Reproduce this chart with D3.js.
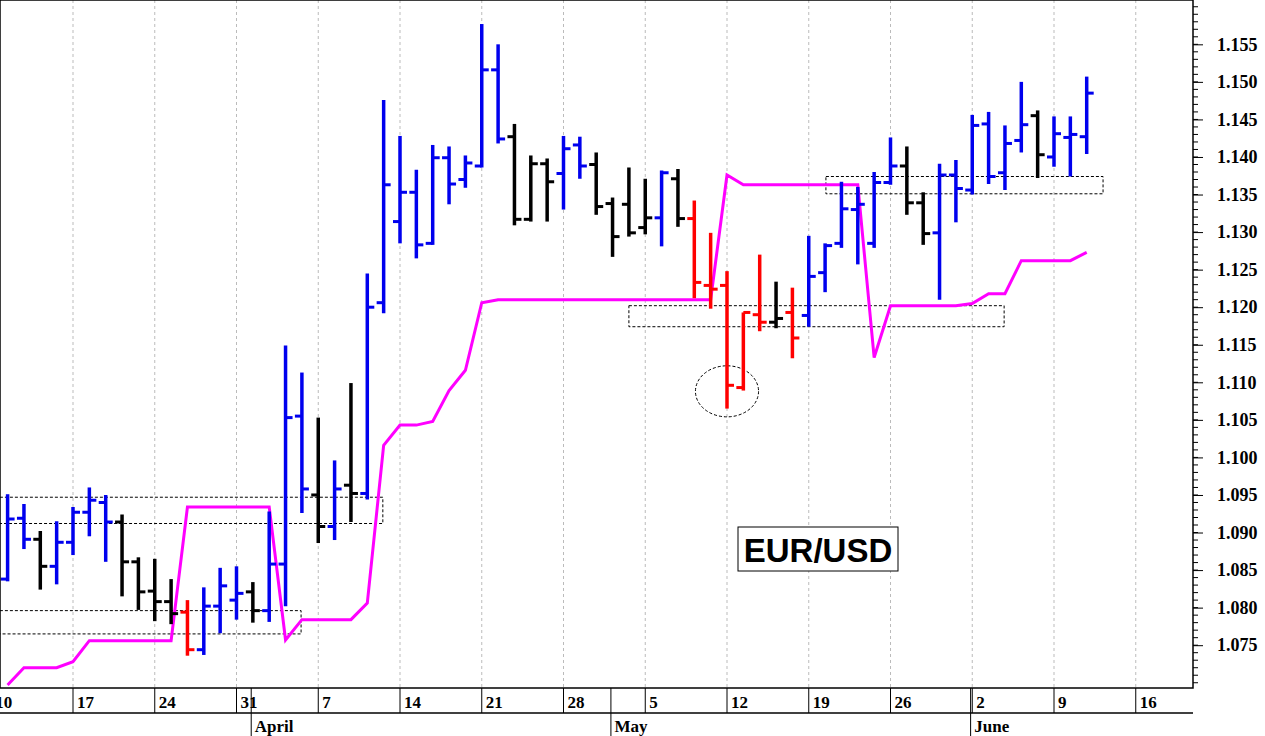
<!DOCTYPE html>
<html><head><meta charset="utf-8">
<script src="https://cdn.jsdelivr.net/npm/d3@7"></script>
<style>body{margin:0;background:#fff}svg{display:block}</style>
</head><body><svg id="c" width="1265" height="736"></svg>
<script>
// trading-day index (0 = Mon Mar 17)
const firstIndex = -4;
const opens  = [1.0838,1.0919,1.0891,1.0855,1.0887,1.0927,1.0940,1.0914,1.0861,1.0822,1.0808,1.0794,1.0744,1.0802,1.0810,1.0821,1.0796,1.0858,1.1055,1.0950,1.0908,1.0963,1.0952,1.1206,1.1314,1.1353,1.1285,1.1399,1.1370,1.1388,1.1516,1.1427,1.1317,1.1391,1.1378,1.1416,1.1390,1.1338,1.1337,1.1306,1.1319,1.1371,1.1318,1.1229,1.1229,1.1093,1.1190,1.1180,1.1193,1.1189,1.1246,1.1285,1.1330,1.1285,1.1366,1.1388,1.1339,1.1299,1.1376,1.1356,1.1444,1.1379,1.1422,1.1455,1.1400,1.1426,1.1427];
const highs  = [1.0951,1.0938,1.0902,1.0915,1.0934,1.0960,1.0950,1.0924,1.0867,1.0865,1.0838,1.0810,1.0827,1.0853,1.0855,1.0834,1.0928,1.1149,1.1113,1.1053,1.0996,1.1099,1.1245,1.1476,1.1428,1.1383,1.1416,1.1414,1.1402,1.1577,1.1550,1.1444,1.1402,1.1398,1.1428,1.1427,1.1406,1.1346,1.1386,1.1371,1.1382,1.1384,1.1342,1.1299,1.1248,1.1193,1.1270,1.1234,1.1226,1.1295,1.1285,1.1367,1.1360,1.1380,1.1426,1.1414,1.1353,1.1391,1.1396,1.1456,1.1460,1.1442,1.1500,1.1462,1.1454,1.1454,1.1507];
const lows   = [1.0835,1.0878,1.0824,1.0831,1.0870,1.0895,1.0861,1.0815,1.0797,1.0782,1.0778,1.0736,1.0737,1.0766,1.0784,1.0780,1.0781,1.0802,1.0926,1.0886,1.0890,1.0914,1.0944,1.1192,1.1285,1.1265,1.1283,1.1337,1.1359,1.1386,1.1418,1.1309,1.1314,1.1314,1.1330,1.1371,1.1323,1.1267,1.1294,1.1297,1.1281,1.1307,1.1212,1.1198,1.1065,1.1089,1.1168,1.1172,1.1132,1.1174,1.1220,1.1279,1.1257,1.1279,1.1363,1.1323,1.1283,1.1210,1.1313,1.1350,1.1364,1.1356,1.1406,1.1372,1.1387,1.1374,1.1404];
const closes = [1.0918,1.0891,1.0855,1.0887,1.0927,1.0943,1.0914,1.0861,1.0821,1.0808,1.0792,1.0744,1.0802,1.0829,1.0819,1.0796,1.0858,1.1053,1.0958,1.0908,1.0958,1.0952,1.1200,1.1363,1.1353,1.1283,1.1399,1.1364,1.1392,1.1516,1.1424,1.1317,1.1391,1.1367,1.1411,1.1388,1.1334,1.1294,1.1299,1.1319,1.1379,1.1318,1.1233,1.1224,1.1096,1.1193,1.1180,1.1185,1.1159,1.1241,1.1282,1.1331,1.1337,1.1366,1.1388,1.1339,1.1298,1.1376,1.1358,1.1442,1.1374,1.1418,1.1443,1.1403,1.1431,1.1430,1.1485];
const barColors = "bbkbbbbkkkkrbbbkbbbkbkbbbbbbbbbkkkbbkkkkbkrrrrrkrbbbbbbkkbbbbbbkbbb";
const stopLine = [1.0697,1.0720,1.0720,1.0720,1.0728,1.0756,1.0756,1.0756,1.0756,1.0756,1.0756,1.0934,1.0934,1.0934,1.0934,1.0934,1.0934,1.0757,1.0784,1.0784,1.0784,1.0784,1.0806,1.1016,1.1043,1.1043,1.1048,1.1089,1.1116,1.1206,1.1210,1.1210,1.1210,1.1210,1.1210,1.1210,1.1210,1.1210,1.1210,1.1210,1.1210,1.1210,1.1210,1.1210,1.1376,1.1363,1.1363,1.1363,1.1363,1.1363,1.1363,1.1363,1.1363,1.1133,1.1202,1.1202,1.1202,1.1202,1.1202,1.1205,1.1218,1.1218,1.1262,1.1262,1.1262,1.1262,1.1273];
// zones: [startIndex, endIndex, top, bottom]
const zones = [[-6,18.95,1.0947,1.0912],[-6,13.95,1.0796,1.0765],[34,56.95,1.1202,1.1174],[46.05,63,1.1374,1.1351]];
const ellipse = {idx:40, price:1.1088, dIdx:1.93, dPrice:0.0034};
const weekTicks = [-5,0,5,10,15,20,25,30,35,40,45,50,55,60,65];
const weekLabels = ["10","17","24","31","7","14","21","28","5","12","19","26","2","9","16"];
const monthIdx = [11,33,55];
const monthLabels = ["April","May","June"];
const yTicks = [1.075,1.080,1.085,1.090,1.095,1.100,1.105,1.110,1.115,1.120,1.125,1.130,1.135,1.140,1.145,1.150,1.155];
const title = "EUR/USD";

const svg = d3.select("#c");
const plotR = 1193, plotB = 688;
const x = d3.scaleLinear().domain([-5,65]).range([-8.75,1135.75]);
const y = d3.scaleLinear().domain([1.0693,1.1609]).range([plotB,0]);
const col = {b:"#0000ee",k:"#000000",r:"#ff0000"};

// grid
svg.append("g").selectAll("line").data(weekTicks).join("line")
  .attr("x1",d=>x(d)).attr("x2",d=>x(d)).attr("y1",0).attr("y2",plotB)
  .attr("stroke","#bbb").attr("stroke-dasharray","3,3");

// zones
svg.append("g").selectAll("rect").data(zones).join("rect")
  .attr("x",d=>x(d[0])).attr("width",d=>x(d[1])-x(d[0]))
  .attr("y",d=>y(d[2])).attr("height",d=>y(d[3])-y(d[2]))
  .attr("fill","none").attr("stroke","#000").attr("stroke-width",1).attr("stroke-dasharray","3,2");
svg.append("ellipse").attr("cx",x(ellipse.idx)).attr("cy",y(ellipse.price))
  .attr("rx",x(ellipse.dIdx)-x(0)).attr("ry",y(0)-y(ellipse.dPrice)).attr("fill","none")
  .attr("stroke","#000").attr("stroke-dasharray","3,2");

// stop line
svg.append("path").datum(stopLine).attr("fill","none").attr("stroke","#ff00ff").attr("stroke-width",3)
  .attr("d",d3.line().x((d,i)=>x(i+firstIndex)).y(d=>y(d)));

// bars
const bars = svg.append("g").selectAll("g").data(opens.map((o,i)=>({i:i+firstIndex,o,h:highs[i],l:lows[i],c:closes[i],k:barColors[i]}))).join("g")
  .attr("stroke",d=>col[d.k]).attr("stroke-width",3.5);
bars.append("line").attr("x1",d=>x(d.i)).attr("x2",d=>x(d.i)).attr("y1",d=>y(d.h)).attr("y2",d=>y(d.l));
bars.append("line").attr("x1",d=>x(d.i)-7).attr("x2",d=>x(d.i)).attr("y1",d=>y(d.o)).attr("y2",d=>y(d.o)).attr("stroke-width",3);
bars.append("line").attr("x1",d=>x(d.i)).attr("x2",d=>x(d.i)+7).attr("y1",d=>y(d.c)).attr("y2",d=>y(d.c)).attr("stroke-width",3);

// frame
svg.append("rect").attr("x",0).attr("y",0).attr("width",plotR).attr("height",plotB).attr("fill","none").attr("stroke","#000").attr("stroke-width",1.5);
// y axis
const ya = d3.axisRight(y).tickValues(yTicks).tickFormat(d3.format(".3f")).tickSize(10).tickPadding(14);
const yg = svg.append("g").attr("transform",`translate(${plotR},0)`).call(ya);
yg.select(".domain").remove();
yg.selectAll("text").attr("font-family","Liberation Serif").attr("font-weight","bold").attr("font-size",18).attr("fill","#000");
const minor = d3.range(1070,1161).map(v=>v/1000);
svg.append("g").selectAll("line").data(minor).join("line")
  .attr("x1",plotR).attr("x2",plotR+5).attr("y1",d=>y(d)).attr("y2",d=>y(d)).attr("stroke","#000");
// x axis rows
svg.append("line").attr("x1",0).attr("x2",plotR).attr("y1",713).attr("y2",713).attr("stroke","#000").attr("stroke-width",1.5);
svg.append("g").selectAll("line").data(weekTicks).join("line")
  .attr("x1",d=>x(d)).attr("x2",d=>x(d)).attr("y1",plotB).attr("y2",713).attr("stroke","#000");
svg.append("g").selectAll("text").data(weekTicks).join("text")
  .attr("x",d=>Math.max(x(d)+4,-8)).attr("y",708).text((d,i)=>weekLabels[i])
  .attr("font-family","Liberation Serif").attr("font-weight","bold").attr("font-size",17);
svg.append("g").selectAll("line").data(monthIdx).join("line")
  .attr("x1",d=>x(d-0.1)).attr("x2",d=>x(d-0.1)).attr("y1",plotB).attr("y2",736).attr("stroke","#000");
svg.append("g").selectAll("text").data(monthIdx).join("text")
  .attr("x",d=>x(d)+2).attr("y",732).text((d,i)=>monthLabels[i])
  .attr("font-family","Liberation Serif").attr("font-weight","bold").attr("font-size",17);

// title box
svg.append("rect").attr("x",738).attr("y",527).attr("width",160).attr("height",44).attr("fill","#fff").attr("stroke","#000");
svg.append("text").attr("x",818).attr("y",562).attr("text-anchor","middle").text(title)
  .attr("font-family","Liberation Sans").attr("font-weight","bold").attr("font-size",33);
</script></body></html>
